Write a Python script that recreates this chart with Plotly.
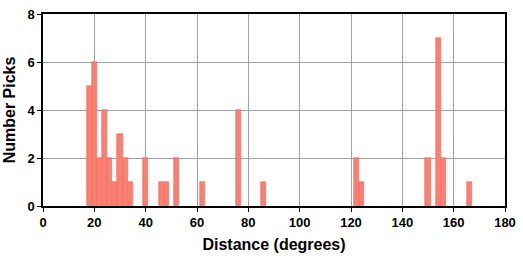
import plotly.graph_objects as go

# Histogram bins (2-degree width), centers in degrees
bin_centers = [18, 20, 22, 24, 26, 28, 30, 32, 34, 40, 46, 48, 52, 62, 76, 86, 122, 124, 150, 154, 156, 166]
counts = [5, 6, 2, 4, 2, 1, 3, 2, 1, 2, 1, 1, 2, 1, 4, 1, 2, 1, 2, 7, 2, 1]
bin_width = 2

x_ticks = list(range(0, 181, 20))
y_ticks = list(range(0, 9, 2))

fig = go.Figure()
fig.add_trace(go.Bar(
    x=bin_centers, y=counts, width=[bin_width] * len(bin_centers),
    marker=dict(color="rgb(250,128,114)", line=dict(color="rgb(238,100,88)", width=0.6)),
    showlegend=False,
))

font_family = "Liberation Sans, Arial, Helvetica, sans-serif"
fig.update_layout(
    width=523, height=258,
    margin=dict(l=43, r=11, t=7, b=51),
    plot_bgcolor="white", paper_bgcolor="white",
    bargap=0,
    font=dict(family=font_family, color="black"),
)
fig.update_xaxes(
    range=[0, 180], tickvals=x_ticks, ticktext=[str(v) for v in x_ticks],
    showgrid=True, gridcolor="#a0a0a0", gridwidth=1,
    showline=True, linecolor="black", linewidth=1.5, mirror=True,
    ticks="outside", ticklen=4, tickcolor="black",
    tickfont=dict(size=13, weight="bold"),
    ticklabeloverflow="allow",
    title=dict(text="Distance (degrees)", font=dict(size=16, weight="bold"), standoff=9),
    zeroline=False,
)
fig.update_yaxes(
    range=[0, 8], tickvals=y_ticks, ticktext=[str(v) for v in y_ticks],
    showgrid=True, gridcolor="#a0a0a0", gridwidth=1,
    showline=True, linecolor="black", linewidth=1.5, mirror=True,
    ticks="outside", ticklen=4, tickcolor="black",
    tickfont=dict(size=13, weight="bold"),
    ticklabeloverflow="allow",
    title=dict(text="Number Picks", font=dict(size=16, weight="bold"), standoff=8),
    zeroline=False,
)

fig.write_html("out.html")
